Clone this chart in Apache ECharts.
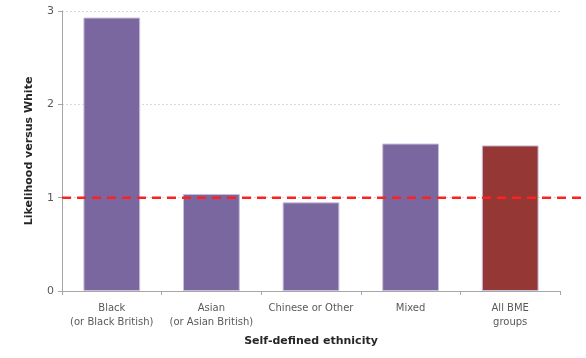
<!DOCTYPE html>
<html><head><meta charset="utf-8">
<script src="https://cdn.jsdelivr.net/npm/echarts@6/dist/echarts.min.js"></script>
<style>html,body{margin:0;padding:0;background:#fff}#c{width:586px;height:358px}</style>
</head><body><div id="c"></div>
<script>
const categories = ['Black\n(or Black British)', 'Asian\n(or Asian British)', 'Chinese or Other', 'Mixed', 'All BME\ngroups'];
const values = [2.93, 1.04, 0.95, 1.58, 1.56];
const barColors = ['#7B67A0', '#7B67A0', '#7B67A0', '#7B67A0', '#953735'];
const yTicks = [0, 1, 2, 3];
const refLevel = 1;

const chart = echarts.init(document.getElementById('c'));
const font = 'Verdana, "DejaVu Sans", sans-serif';
chart.setOption({
  animation: false,
  grid: [
    {left: 62, right: 26, top: 11, bottom: 67},
    {left: 62, right: 0, top: 11, bottom: 67}
  ],
  xAxis: [
    {type: 'category', gridIndex: 0, data: categories,
     axisLine: {lineStyle: {color: '#A6A6A6'}},
     axisTick: {show: true, length: 4, lineStyle: {color: '#A6A6A6'}},
     axisLabel: {color: '#595959', fontSize: 10, fontFamily: font, lineHeight: 14, margin: 10, interval: 0},
     name: 'Self-defined ethnicity', nameLocation: 'middle', nameGap: 45,
     nameTextStyle: {color: '#262626', fontSize: 11, fontWeight: 'bold', fontFamily: font}},
    {type: 'value', gridIndex: 1, min: 0, max: 1, show: false}
  ],
  yAxis: [
    {type: 'value', gridIndex: 0, min: 0, max: 3, interval: 1,
     axisLine: {show: true, lineStyle: {color: '#A6A6A6'}},
     axisTick: {show: true, length: 4, lineStyle: {color: '#A6A6A6'}},
     axisLabel: {color: '#595959', fontSize: 11, fontFamily: font, margin: 8,
                 formatter: v => yTicks.includes(v) ? String(v) : ''},
     splitLine: {show: true, lineStyle: {color: '#D9D9D9', type: [2, 2]}},
     name: 'Likelihood versus White', nameLocation: 'middle', nameGap: 27, nameRotate: 90,
     nameTextStyle: {color: '#262626', fontSize: 11, fontWeight: 'bold', fontFamily: font}},
    {type: 'value', gridIndex: 1, min: 0, max: 3, show: false}
  ],
  series: [
    {type: 'bar', xAxisIndex: 0, yAxisIndex: 0, barWidth: '57%',
     data: values.map((v, i) => ({value: v, itemStyle: {color: barColors[i]}})),
     itemStyle: {borderColor: '#C8C0D8', borderWidth: 1}, z: 2},
    {type: 'line', xAxisIndex: 1, yAxisIndex: 1, symbol: 'none',
     data: [[0, refLevel], [1, refLevel]],
     lineStyle: {color: '#FF2020', width: 2.5, type: [9, 6]}, z: 5}
  ]
});
</script></body></html>
